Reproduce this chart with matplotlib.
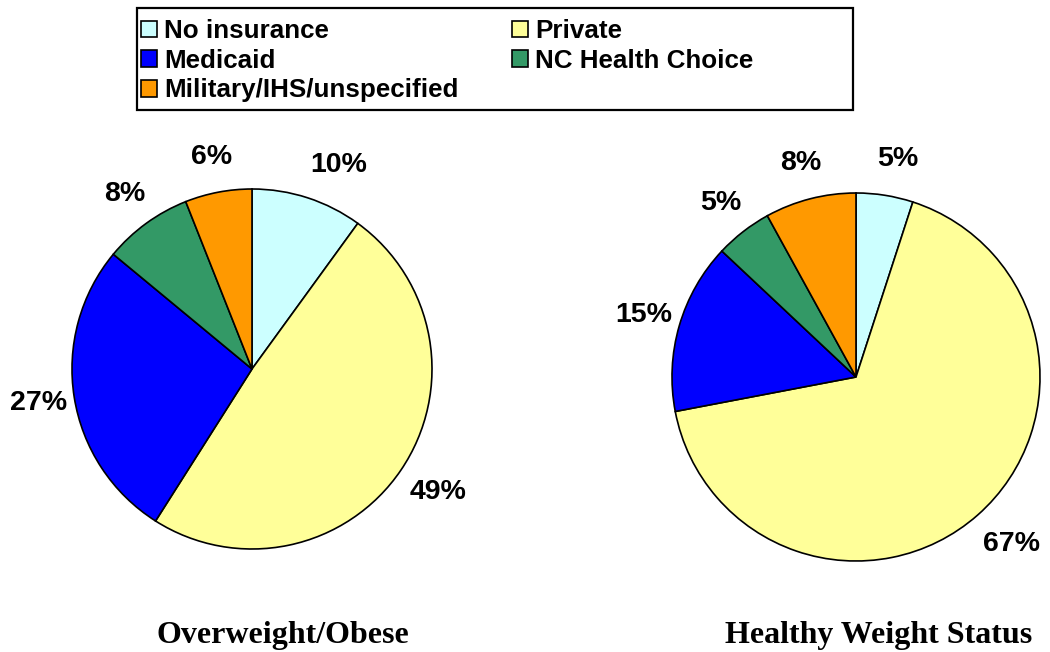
import matplotlib.pyplot as plt
from matplotlib.patches import Rectangle

# insurance categories, clockwise from 12 o'clock
categories = ["No insurance", "Private", "Medicaid", "NC Health Choice",
              "Military/IHS/unspecified"]
colors = ["#CCFFFF", "#FFFF99", "#0000FF", "#339966", "#FF9900"]

overweight = [10, 49, 27, 8, 6]
healthy = [5, 67, 15, 5, 8]

titles = ["Overweight/Obese", "Healthy Weight Status"]

fig = plt.figure(figsize=(10.5, 6.52), dpi=100)

W, H = 1050, 652


def make_ax(cx, cy, r):
    # axes box in pixels -> figure fraction
    return fig.add_axes([(cx - r) / W, (H - cy - r) / H, 2 * r / W, 2 * r / H])


def draw_pie(ax, values, nudge):
    wedges, _, autotexts = ax.pie(
        values, colors=colors, startangle=90, counterclock=False,
        autopct="%d%%", pctdistance=1.2, radius=1,
        wedgeprops=dict(edgecolor="black", linewidth=1.2),
        textprops=dict(fontsize=20.5, fontweight="bold",
                       family="Liberation Sans", color="black"))
    # small hand nudges for labels that Excel put off the radial line
    for t, (dx, dy) in zip(autotexts, nudge):
        x, y = t.get_position()
        t.set_position((x + dx, y + dy))
    ax.set_xlim(-1, 1)
    ax.set_ylim(-1, 1)
    ax.set_aspect("equal")
    ax.axis("off")
    return wedges


ax1 = make_ax(252, 369, 180)
w1 = draw_pie(ax1, overweight,
              [(0.11, -0.01), (0.04, -0.01), (0, 0), (0, 0), (0, 0)])

ax2 = make_ax(856, 377, 184)
draw_pie(ax2, healthy, [(0.04, 0), (0.05, -0.01), (0, 0), (0, 0), (0, 0)])

# titles under each pie
fig.text(283 / W, 1 - 643 / H, titles[0], ha="center", va="baseline",
         family="Liberation Serif", fontweight="bold", fontsize=23)
fig.text(879 / W, 1 - 643 / H, titles[1], ha="center", va="baseline",
         family="Liberation Serif", fontweight="bold", fontsize=23)

# legend, filled row by row like the original
order = [0, 2, 4, 1, 3]
leg = fig.legend([w1[i] for i in order], [categories[i] for i in order],
                 ncol=2, loc="upper left", borderpad=0,
                 bbox_to_anchor=(128 / W, 1 - 6 / H), frameon=False,
                 handlelength=0.6, handleheight=0.6, handletextpad=0.3,
                 columnspacing=2.05, labelspacing=0.22,
                 prop=dict(family="Liberation Sans", weight="bold", size=18.7))
for h in leg.legend_handles:
    h.set_linewidth(1.2)

fig.patches.append(Rectangle((137 / W, 1 - 110 / H), 716 / W, 102 / H,
                             transform=fig.transFigure, fill=False,
                             edgecolor="black", linewidth=1.6))

fig.savefig("out.png", dpi=100)
